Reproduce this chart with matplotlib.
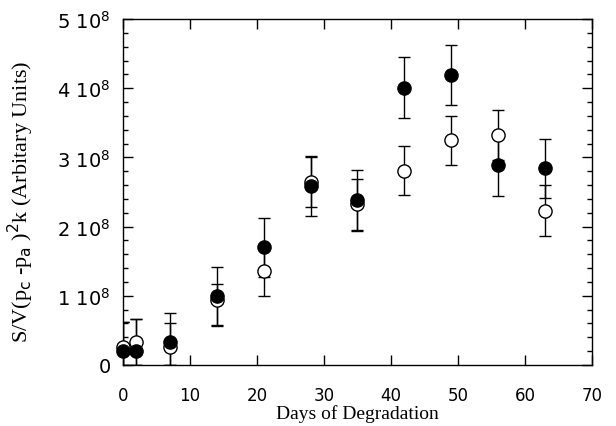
#!/usr/bin/env python3
"""Surface-to-volume scaling versus days of degradation."""

import matplotlib as mpl
mpl.use("Agg")
import matplotlib.pyplot as plt
from matplotlib.ticker import FixedLocator, MultipleLocator

DAYS = [0, 2, 7, 14, 21, 28, 35, 42, 49, 56, 63]

# values in units of 1e8
FILLED = [0.20, 0.20, 0.33, 1.00, 1.70, 2.58, 2.38, 4.00, 4.19, 2.89, 2.84]
FILLED_LO = [0.20, 0.20, 0.33, 0.42, 0.43, 0.43, 0.44, 0.43, 0.44, 0.45, 0.43]
FILLED_HI = [0.42, 0.47, 0.42, 0.42, 0.43, 0.43, 0.44, 0.45, 0.44, 0.45, 0.43]

OPEN = [0.26, 0.33, 0.26, 0.94, 1.36, 2.65, 2.32, 2.81, 3.25, 3.32, 2.23]
OPEN_LO = [0.26, 0.33, 0.26, 0.38, 0.37, 0.37, 0.37, 0.36, 0.36, 0.36, 0.37]
OPEN_HI = [0.36, 0.34, 0.35, 0.23, 0.37, 0.37, 0.37, 0.36, 0.35, 0.36, 0.37]

Y_TICKS = [0, 1, 2, 3, 4, 5]
Y_TICKLABELS = ["0", "1 10$^{8}$", "2 10$^{8}$", "3 10$^{8}$", "4 10$^{8}$", "5 10$^{8}$"]
X_TICKS = [0, 10, 20, 30, 40, 50, 60, 70]


def main() -> None:
    mpl.rcParams.update(
        {
            "font.family": "DejaVu Sans",
            "mathtext.fontset": "dejavusans",
            "xtick.direction": "in",
            "ytick.direction": "in",
            "xtick.top": True,
            "ytick.right": True,
        }
    )
    fig = plt.figure(figsize=(6.16, 4.27), dpi=100)
    ax = fig.add_axes([0.1997, 0.1429, 0.7613, 0.8103])

    ax.errorbar(DAYS, OPEN, yerr=[OPEN_LO, OPEN_HI], fmt="none", ecolor="black",
                elinewidth=1.0, capsize=4, capthick=1.0, zorder=2)
    ax.errorbar(DAYS, FILLED, yerr=[FILLED_LO, FILLED_HI], fmt="none", ecolor="black",
                elinewidth=1.0, capsize=4, capthick=1.0, zorder=2)
    ax.plot(DAYS, OPEN, "o", markersize=9.5, markerfacecolor="white",
            markeredgecolor="black", markeredgewidth=1.0, clip_on=False, zorder=3)
    ax.plot(DAYS, FILLED, "o", markersize=9.5, markerfacecolor="black",
            markeredgecolor="black", clip_on=False, zorder=4)

    ax.set_xlim(0, 70)
    ax.set_ylim(0, 5)
    ax.xaxis.set_major_locator(FixedLocator(X_TICKS))
    ax.set_xticklabels([str(t) for t in X_TICKS])
    ax.yaxis.set_major_locator(FixedLocator(Y_TICKS))
    ax.yaxis.set_minor_locator(MultipleLocator(0.2))
    ax.set_yticklabels(Y_TICKLABELS)

    ax.tick_params(axis="x", which="major", length=7, width=1.0, pad=15, labelsize=12)
    ax.tick_params(axis="y", which="major", length=7, width=1.0, pad=9, labelsize=14)
    ax.tick_params(axis="y", which="minor", length=3.5, width=1.0)
    for spine in ax.spines.values():
        spine.set_linewidth(1.0)

    ax.set_xlabel("Days of Degradation", family="Liberation Serif", fontsize=14)
    ax.xaxis.set_label_coords(0.5, -0.113)
    ax.set_ylabel(r"S/V(p$_{\rm c}$ -p$_{\rm a}$ )$^{2}$k (Arbitary Units)",
                  family="Liberation Serif", fontsize=16)
    ax.yaxis.set_label_coords(-0.185, 0.475)

    fig.savefig("out.png", dpi=100)
    plt.close(fig)


if __name__ == "__main__":
    main()
